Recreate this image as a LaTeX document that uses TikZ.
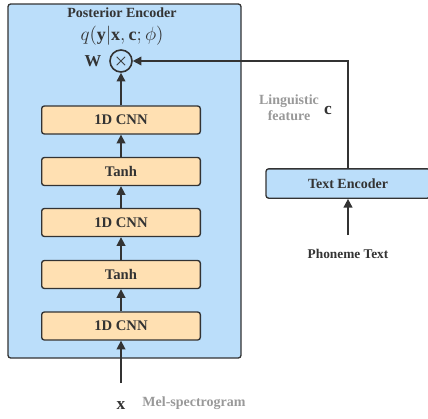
\documentclass[tikz,border=0pt]{standalone}
\usepackage{fontspec}
\usepackage{amsmath}
\setmainfont{Liberation Serif}
\usepackage{xcolor}
\definecolor{inkgray}{HTML}{333333}
\definecolor{encblue}{RGB}{187, 222, 250}
\definecolor{layerorange}{RGB}{255, 224, 178}
\definecolor{notegray}{HTML}{999999}
\usetikzlibrary{arrows.meta,positioning}

\begin{document}
\begin{tikzpicture}[x=0.75pt, y=-0.75pt,
    encoder/.style={rectangle, rounded corners=2pt, draw=inkgray, line width=1pt, fill=encblue, minimum width=174.75pt, minimum height=265.5pt},
    layer/.style={rectangle, rounded corners=2pt, draw=inkgray, line width=1pt, fill=layerorange, minimum width=119pt, minimum height=21pt, text=inkgray, font=\bfseries\fontsize{11}{13}\selectfont},
    textenc/.style={rectangle, rounded corners=2pt, draw=inkgray, line width=1pt, fill=encblue, minimum width=123pt, minimum height=22pt, text=inkgray, font=\bfseries\fontsize{10.5}{12}\selectfont},
    note/.style={text=notegray, font=\bfseries\fontsize{10.5}{12}\selectfont, align=center},
    arr/.style={-{Triangle[length=6.5pt,width=6.5pt]}, line width=1.2pt, draw=inkgray}
]
    \useasboundingbox (0,0) rectangle (428,418);

    % posterior encoder
    \node[encoder] (post) at (124.5,181) {};
    \node[text=inkgray, font=\bfseries\fontsize{10.5}{12}\selectfont] (title) at (122,13) {Posterior Encoder};
    \node[text=inkgray, font=\fontsize{13.5}{15}\selectfont] (qdist) at (122,36) {$q(\mathbf{y}|\mathbf{x},\mathbf{c};\phi)$};
    \node[circle, draw=inkgray, line width=1.2pt, minimum size=16.5pt, inner sep=0pt, text=inkgray, font=\large] (mult) at (121,61) {$\boldsymbol{\times}$};
    \node[text=inkgray, font=\fontsize{12.5}{14}\selectfont] (wlabel) at (93,61) {$\mathbf{W}$};

    \node[layer] (cnnc) at (121,120) {1D CNN};
    \node[layer] (tanhb) at (121,171.5) {Tanh};
    \node[layer] (cnnb) at (121,222.5) {1D CNN};
    \node[layer] (tanha) at (121,274.5) {Tanh};
    \node[layer] (cnna) at (121,326) {1D CNN};

    % text encoder branch
    \node[textenc] (text) at (348,183.5) {Text Encoder};
    \node[text=inkgray, font=\bfseries\fontsize{10}{12}\selectfont] (phoneme) at (348,254) {Phoneme Text};
    \node[note] (ling) at (289,108) {Linguistic\\feature};
    \node[text=inkgray, font=\fontsize{13}{15}\selectfont] (clabel) at (328,110) {$\mathbf{c}$};

    % input
    \node[text=inkgray, font=\fontsize{13}{15}\selectfont] (xin) at (121,406) {$\mathbf{x}$};
    \node[note] (mel) at (194,403) {Mel-spectrogram};
    \coordinate (xstart) at (121,383);
    \coordinate (pstart) at (348,235);

    % arrows
    \draw[arr] (xstart) -- (cnna.south);
    \draw[arr] (cnna.north) -- (tanha.south);
    \draw[arr] (tanha.north) -- (cnnb.south);
    \draw[arr] (cnnb.north) -- (tanhb.south);
    \draw[arr] (tanhb.north) -- (cnnc.south);
    \draw[arr] (cnnc.north) -- (mult.south);
    \draw[arr] (pstart) -- (text.south);
    \draw[arr] (text.north) |- (mult.east);
\end{tikzpicture}
\end{document}
